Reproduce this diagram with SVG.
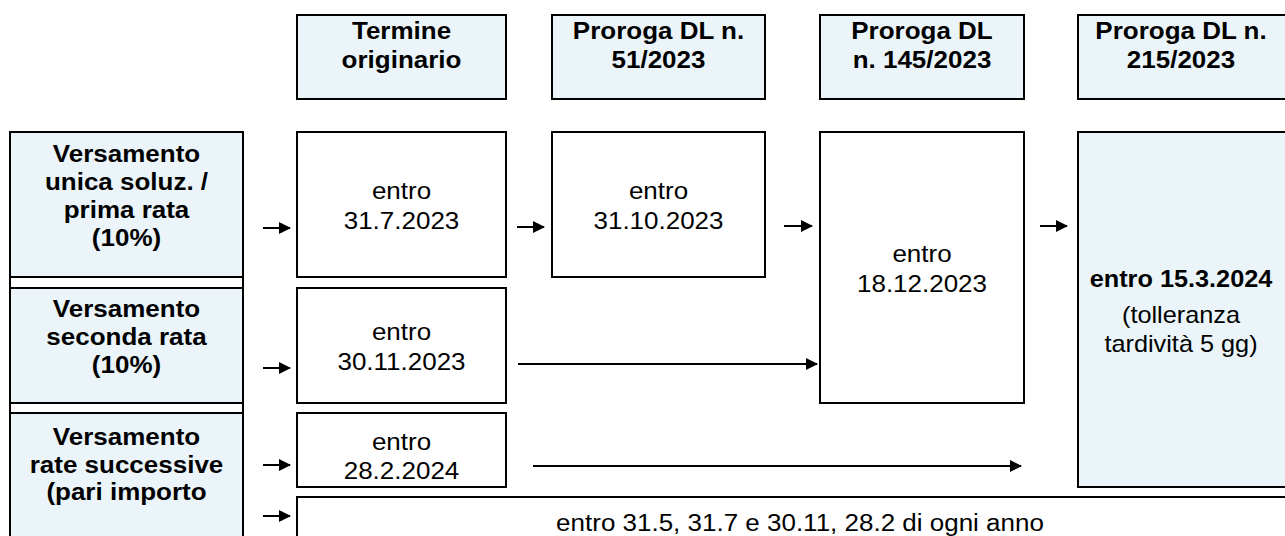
<svg xmlns="http://www.w3.org/2000/svg" width="1285" height="536" viewBox="0 0 1285 536">
<defs>
<style>
.blue{fill:#ebf5f9;stroke:#000;stroke-width:2}
.white{fill:#fff;stroke:#000;stroke-width:2}
.b{font-family:"Liberation Sans",Arial,sans-serif;font-weight:bold;font-size:23px;text-anchor:middle;fill:#000}
.r{font-family:"Liberation Sans",Arial,sans-serif;font-size:23px;text-anchor:middle;fill:#000}
.c{stroke:#000;stroke-width:2;fill:none;marker-end:url(#ah)}
</style>
<marker id="ah" markerUnits="userSpaceOnUse" markerWidth="12" markerHeight="12" refX="11" refY="6" orient="auto">
<path d="M0,0 L12,6 L0,12 z" fill="#000"/>
</marker>
</defs>
<rect width="1285" height="536" fill="#fff"/>

<g id="h1"><rect class="blue" x="297" y="15" width="209" height="84"/><g transform="translate(401.5 0) scale(1.13 1)"><text class="b" x="0" y="39">Termine</text><text class="b" x="0" y="68">originario</text></g></g>
<g id="h2"><rect class="blue" x="552" y="15" width="213" height="84"/><g transform="translate(658.5 0) scale(1.13 1)"><text class="b" x="0" y="39">Proroga DL n.</text><text class="b" x="0" y="68">51/2023</text></g></g>
<g id="h3"><rect class="blue" x="820" y="15" width="204" height="84"/><g transform="translate(922 0) scale(1.13 1)"><text class="b" x="0" y="39">Proroga DL</text><text class="b" x="0" y="68">n. 145/2023</text></g></g>
<g id="h4"><rect class="blue" x="1078" y="15" width="220" height="84"/><g transform="translate(1181 0) scale(1.13 1)"><text class="b" x="0" y="39">Proroga DL n.</text><text class="b" x="0" y="68">215/2023</text></g></g>

<g id="leftframe"><rect class="white" x="10" y="132" width="233" height="420"/></g>
<g id="l1"><rect class="blue" x="10" y="132" width="233" height="145"/><g transform="translate(126.5 0) scale(1.13 1)"><text class="b" x="0" y="162">Versamento</text><text class="b" x="0" y="190">unica soluz. /</text><text class="b" x="0" y="218">prima rata</text><text class="b" x="0" y="246">(10%)</text></g></g>
<g id="l2"><rect class="blue" x="10" y="288" width="233" height="115"/><g transform="translate(126.5 0) scale(1.13 1)"><text class="b" x="0" y="317">Versamento</text><text class="b" x="0" y="345">seconda rata</text><text class="b" x="0" y="373">(10%)</text></g></g>
<g id="l3"><rect class="blue" x="10" y="413" width="233" height="140"/><g transform="translate(126.5 0) scale(1.13 1)"><text class="b" x="0" y="445">Versamento</text><text class="b" x="0" y="473">rate successive</text><text class="b" x="0" y="500">(pari importo</text></g></g>

<g id="n1"><rect class="white" x="297" y="132" width="209" height="145"/><g transform="translate(401.5 0) scale(1.13 1)"><text class="r" x="0" y="199">entro</text><text class="r" x="0" y="229">31.7.2023</text></g></g>
<g id="n2"><rect class="white" x="552" y="132" width="213" height="145"/><g transform="translate(658.5 0) scale(1.13 1)"><text class="r" x="0" y="199">entro</text><text class="r" x="0" y="229">31.10.2023</text></g></g>
<g id="n3"><rect class="white" x="820" y="132" width="204" height="271"/><g transform="translate(922 0) scale(1.13 1)"><text class="r" x="0" y="262">entro</text><text class="r" x="0" y="292">18.12.2023</text></g></g>
<g id="n4"><rect class="blue" x="1078" y="132" width="220" height="355"/><g transform="translate(1181 0) scale(1.1 1)"><text class="b" x="0" y="287">entro 15.3.2024</text><text class="r" x="0" y="323">(tolleranza</text><text class="r" x="0" y="352">tardività 5 gg)</text></g></g>
<g id="n5"><rect class="white" x="297" y="288" width="209" height="115"/><g transform="translate(401.5 0) scale(1.13 1)"><text class="r" x="0" y="340">entro</text><text class="r" x="0" y="370">30.11.2023</text></g></g>
<g id="n6"><rect class="white" x="297" y="413" width="209" height="74"/><g transform="translate(401.5 0) scale(1.13 1)"><text class="r" x="0" y="450">entro</text><text class="r" x="0" y="479">28.2.2024</text></g></g>
<g id="n7"><rect class="white" x="297" y="497" width="1000" height="60"/><g transform="translate(800 0) scale(1.13 1)"><text class="r" x="0" y="531">entro 31.5, 31.7 e 30.11, 28.2 di ogni anno</text></g></g>

<g id="connectors">
<line class="c" x1="263" y1="228" x2="290" y2="228"/>
<line class="c" x1="517" y1="227" x2="544" y2="227"/>
<line class="c" x1="784" y1="226" x2="812" y2="226"/>
<line class="c" x1="1040" y1="226" x2="1067" y2="226"/>
<line class="c" x1="263" y1="368" x2="290" y2="368"/>
<line class="c" x1="518" y1="364" x2="817" y2="364"/>
<line class="c" x1="263" y1="465" x2="290" y2="465"/>
<line class="c" x1="533" y1="466" x2="1021" y2="466"/>
<line class="c" x1="263" y1="516" x2="290" y2="516"/>
</g>
</svg>
